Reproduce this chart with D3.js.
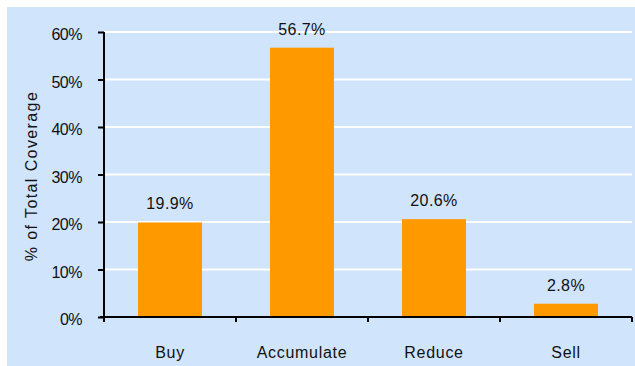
<!DOCTYPE html>
<html><head><meta charset="utf-8">
<script src="https://cdn.jsdelivr.net/npm/d3@7"></script>
<style>body{margin:0;background:#fff}svg{display:block}text{font-family:"Liberation Sans",Arial,sans-serif;fill:#111}</style>
</head><body>
<script>
const categories = ["Buy", "Accumulate", "Reduce", "Sell"];
const values = [19.9, 56.7, 20.6, 2.8];
const yTicks = [0, 10, 20, 30, 40, 50, 60];
const yTitle = "% of Total Coverage";

(function () {
const W = 635, H = 366;
const FONT = "Liberation Sans, Arial, sans-serif";
const svg = d3.select("body").append("svg").attr("width", W).attr("height", H);
svg.append("rect").attr("x", 7).attr("y", 7).attr("width", W - 7).attr("height", H - 7).attr("fill", "#D0E4FC");

const pLeft = 104, pRight = 632, pTop = 32, pBottom = 317;
const x = d3.scaleBand().domain(categories).range([pLeft, pRight]).paddingInner(0.515).paddingOuter(0.2575);
const xOuter = d3.scaleBand().domain(categories).range([pLeft, pRight]);
const y = d3.scaleLinear().domain([0, 60]).range([pBottom, pTop]);

// gridlines
svg.append("g").selectAll("line").data(yTicks.filter(d => d > 0)).join("line")
  .attr("x1", pLeft).attr("x2", pRight).attr("y1", d => y(d)).attr("y2", d => y(d))
  .attr("stroke", "#fff").attr("stroke-width", 2);

// bars
svg.append("g").selectAll("rect").data(values).join("rect")
  .attr("x", (d, i) => x(categories[i])).attr("width", x.bandwidth())
  .attr("y", d => y(d)).attr("height", d => y(0) - y(d)).attr("fill", "#FF9900");

// value labels
svg.append("g").selectAll("text").data(values).join("text")
  .attr("x", (d, i) => x(categories[i]) + x.bandwidth() / 2).attr("y", d => y(d) - 13)
  .attr("text-anchor", "middle").attr("font-size", 16).attr("letter-spacing", 0.4)
  .text(d => d.toFixed(1) + "%");

// y axis
const yAxis = svg.append("g").attr("transform", `translate(${pLeft},0)`)
  .call(d3.axisLeft(y).tickValues(yTicks).tickFormat(d => d + "%").tickSize(6).tickPadding(16));
yAxis.select(".domain").attr("stroke", "#000").attr("stroke-width", 2).attr("d", `M0,${pTop}V${pBottom + 1}`);
yAxis.selectAll(".tick line").attr("stroke", "#000").attr("stroke-width", 2);
yAxis.selectAll(".tick text").attr("font-size", 16).attr("font-family", FONT).attr("fill", "#111")
  .attr("dy", null).attr("y", 7.5).attr("letter-spacing", -0.5);

// x axis
const xAxis = svg.append("g").attr("transform", `translate(0,${pBottom})`)
  .call(d3.axisBottom(xOuter).tickSize(0));
xAxis.select(".domain").attr("stroke", "#000").attr("stroke-width", 2).attr("d", `M${pLeft - 4},0H${pRight}`);
xAxis.selectAll(".tick text").attr("font-size", 16).attr("font-family", FONT).attr("fill", "#111")
  .attr("dy", null).attr("y", 41).attr("letter-spacing", 0.7);
const tickXs = categories.map(c => xOuter(c)).concat([pRight]);
svg.append("g").selectAll("line").data(tickXs).join("line")
  .attr("x1", d => d).attr("x2", d => d)
  .attr("y1", pBottom).attr("y2", pBottom + 5).attr("stroke", "#000").attr("stroke-width", 2);

// y title
svg.append("text").attr("transform", `translate(37,176) rotate(-90)`)
  .attr("text-anchor", "middle").attr("font-size", 16).attr("letter-spacing", 1.4)
  .text(yTitle);
})();
</script>
</body></html>
